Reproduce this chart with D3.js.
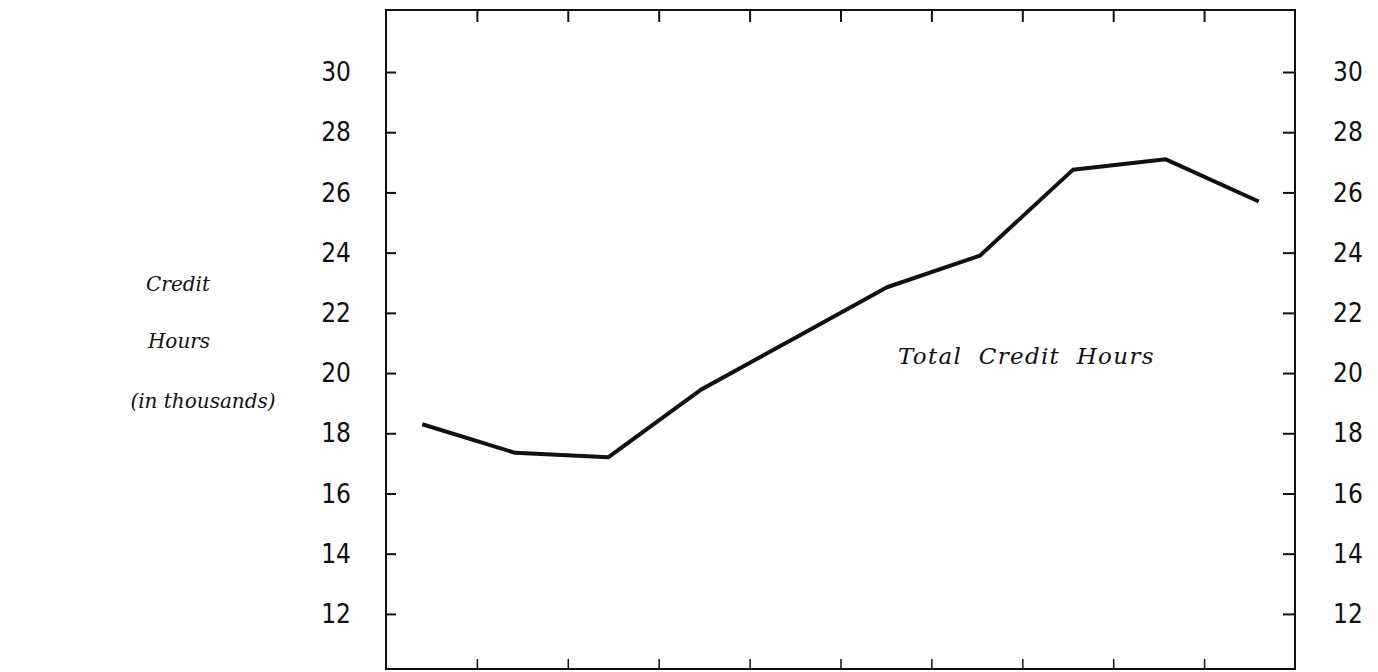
<!DOCTYPE html>
<html>
<head>
<meta charset="utf-8">
<script src="https://cdn.jsdelivr.net/npm/d3@7"></script>
<style>
  body { margin: 0; background: #fff; }
  .tick-label { font-family: "Liberation Sans Narrow", "DejaVu Sans Condensed", sans-serif; font-size: 26px; fill: #111; }
  .label { font-family: "DejaVu Serif", serif; font-style: italic; font-size: 20px; fill: #111; }
</style>
</head>
<body>
<svg width="1378" height="672"></svg>
<script>
// values (thousands of credit hours)
var years = ["1", "2", "3", "4", "5", "6", "7", "8", "9", "10"];
var creditHours = [18.3, 17.35, 17.2, 19.45, 21.15, 22.85, 23.9, 26.75, 27.1, 25.7];
var yTicks = [12, 14, 16, 18, 20, 22, 24, 26, 28, 30];
var xTickSteps = [1, 2, 3, 4, 5, 6, 7, 8, 9];

var svg = d3.select("svg"),
  margin = { top: 10, left: 386 },
  width = 909,
  height = 659;

var g = svg.append("g").attr("transform", "translate(" + margin.left + "," + margin.top + ")");

var xScale = d3.scalePoint().domain(years).range([0, width]).padding(0.39),
  xTickScale = d3.scaleLinear().domain([0, 10]).range([0, width]),
  yScale = d3.scaleLinear().domain([10.17, 32.06]).range([height, 0]);

// frame
g.append("rect")
  .attr("width", width)
  .attr("height", height)
  .attr("fill", "none")
  .attr("stroke", "#111")
  .attr("stroke-width", 2);

// left axis, ticks pointing in
var leftAxis = g.append("g").call(d3.axisRight(yScale).tickValues(yTicks).tickSize(10).tickFormat(""));
leftAxis.select(".domain").remove();
leftAxis.selectAll("line").attr("stroke", "#111").attr("stroke-width", 2);

g.append("g")
  .selectAll("text")
  .data(yTicks)
  .enter()
  .append("text")
  .attr("class", "tick-label")
  .attr("x", -35)
  .attr("y", function (d) { return yScale(d); })
  .attr("dy", "0.35em")
  .attr("text-anchor", "end")
  .text(function (d) { return d; });

// right axis
var rightAxis = g.append("g")
  .attr("transform", "translate(" + width + ",0)")
  .call(d3.axisLeft(yScale).tickValues(yTicks).tickSize(12).tickFormat(""));
rightAxis.select(".domain").remove();
rightAxis.selectAll("line").attr("stroke", "#111").attr("stroke-width", 2);

g.append("g")
  .selectAll("text")
  .data(yTicks)
  .enter()
  .append("text")
  .attr("class", "tick-label")
  .attr("x", width + 38)
  .attr("y", function (d) { return yScale(d); })
  .attr("dy", "0.35em")
  .text(function (d) { return d; });

// top and bottom ticks
var topAxis = g.append("g").call(d3.axisBottom(xTickScale).tickValues(xTickSteps).tickSize(12).tickFormat(""));
topAxis.select(".domain").remove();
topAxis.selectAll("line").attr("stroke", "#111").attr("stroke-width", 2);

var bottomAxis = g.append("g")
  .attr("transform", "translate(0," + height + ")")
  .call(d3.axisTop(xTickScale).tickValues(xTickSteps).tickSize(10).tickFormat(""));
bottomAxis.select(".domain").remove();
bottomAxis.selectAll("line").attr("stroke", "#111").attr("stroke-width", 1.5);

// the line
var line = d3.line()
  .x(function (d, i) { return xScale(years[i]); })
  .y(function (d) { return yScale(d); });

g.append("path")
  .datum(creditHours)
  .attr("d", line)
  .attr("fill", "none")
  .attr("stroke", "#111")
  .attr("stroke-width", 4)
  .attr("stroke-linejoin", "round");

// labels
g.append("text")
  .attr("class", "label")
  .attr("x", 512)
  .attr("y", yScale(20.3))
  .style("font-size", "23px")
  .attr("letter-spacing", "1.3px")
  .attr("word-spacing", "8px")
  .text("Total Credit Hours");

var yLabel = svg.append("g").attr("class", "label").attr("text-anchor", "middle");
yLabel.append("text").attr("x", 178).attr("y", 291).text("Credit");
yLabel.append("text").attr("x", 179).attr("y", 348).text("Hours");
yLabel.append("text").attr("x", 203).attr("y", 408).text("(in thousands)");
</script>
</body>
</html>
